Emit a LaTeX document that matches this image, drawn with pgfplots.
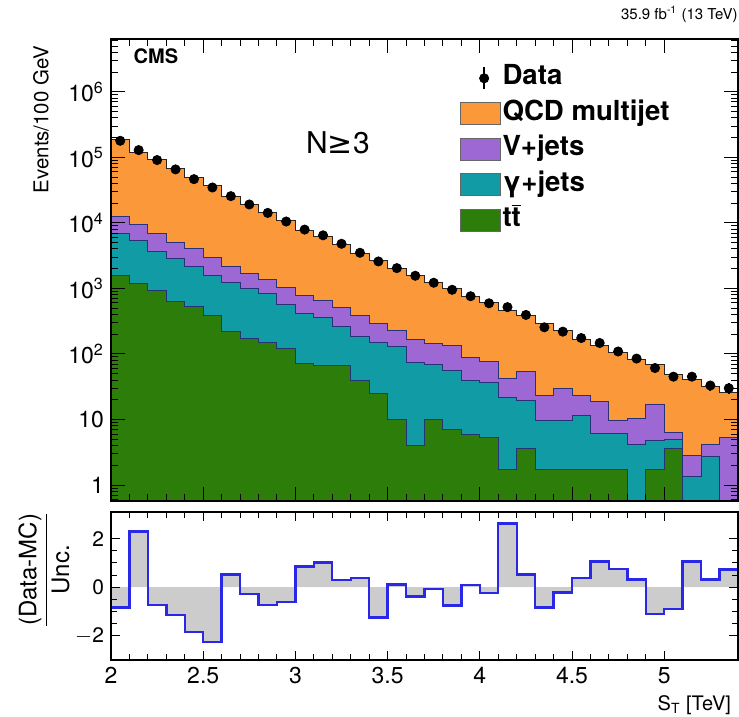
\documentclass[border=0pt]{standalone}
\usepackage{fontspec}
\setmainfont{TeX Gyre Heros}
\newfontfamily\dejavu{DejaVu Sans}
\usepackage{pgfplots}
\usepackage{pgfplotstable}
\pgfplotsset{compat=1.18}

\definecolor{qcdc}{RGB}{250,152,58}
\definecolor{vjc}{RGB}{158,104,212}
\definecolor{gjc}{RGB}{17,155,165}
\definecolor{ttc}{RGB}{45,125,10}
\definecolor{edgec}{RGB}{40,50,120}
\definecolor{ratioblue}{RGB}{40,40,230}
\definecolor{uncgray}{RGB}{204,204,204}

% legend swatches
\pgfplotsset{
  qcdbox/.style={legend image code/.code={\draw[fill=qcdc, draw=black!60] (0pt,-5.5pt) rectangle (20pt,5.5pt);}},
  vjbox/.style={legend image code/.code={\draw[fill=vjc, draw=black!60] (0pt,-5.5pt) rectangle (20pt,5.5pt);}},
  gjbox/.style={legend image code/.code={\draw[fill=gjc, draw=black!60] (0pt,-5.5pt) rectangle (20pt,5.5pt);}},
  ttbox/.style={legend image code/.code={\draw[fill=ttc, draw=black!60] (0pt,-5.5pt) rectangle (20pt,5.5pt);}},
  databox/.style={legend image code/.code={\draw[black, line width=0.9pt] (12pt,-5.5pt) -- (12pt,5.5pt); \fill[black] (12pt,0pt) circle (2.3pt);}},
}

% Stacked histogram: upper edge of each layer (QCD on top of V+jets on top of gamma+jets on top of ttbar)
\pgfplotstableread{
x    qcd     vj     gj     tt
2.0  184300  12600  6900   1570
2.1  118700  9400   5300   1200
2.2  93300   6900   3700   929
2.3  68100   5100   2840   631
2.4  49500   4000   2190   528
2.5  37400   3000   1570   385
2.6  25100   2160   1230   219
2.7  19300   1670   1000   175
2.8  14570   1360   850    150
2.9  10720   1020   570    119
3.0  7660    780    410    72
3.1  6230    653    362    66
3.2  4750    505    264    66
3.3  3450    385    184    40
3.4  2690    287    147    25
3.5  2030    227    130    10
3.6  1580    169    74     4
3.7  1225    142    70     10
3.8  980     134    55     7
3.9  758     88     39     6
4.0  615     76     36.6   5.3
4.1  459     42     21.6   1.73
4.2  385     54     19.2   3.6
4.3  287     23     9.7    1.73
4.4  225     30     9.7    1.73
4.5  169     23     11.3   1.73
4.6  133     19     6.1    1.73
4.7  105     9.7    6.1    1.73
4.8  83      10.4   4.2    0
4.9  70      16.7   4.7    1.73
5.0  49      6.3    5.0    3.6
5.1  41      2.86   1.36   0
5.2  31.5    4.1    2.76   0
5.3  26      5.4    0      0
5.4  26      5.4    0      0
}\stacktab

% Observed events per bin with Poisson uncertainty
\pgfplotstableread{
x     n       e
2.05  179000  423
2.15  129000  359
2.25  91000   302
2.35  65500   256
2.45  46500   216
2.55  34700   186
2.65  25600   160
2.75  19100   138
2.85  14200   119
2.95  10500   102
3.05  7900    89
3.15  6460    80
3.25  4800    69
3.35  3500    59
3.45  2580    51
3.55  2040    45
3.65  1560    39.5
3.75  1220    35
3.85  953     31
3.95  760     27.6
4.05  593     24.4
4.15  518     22.8
4.25  394     19.8
4.35  255     16
4.45  219     14.8
4.55  175     13.2
4.65  147     12.1
4.75  109     10.4
4.85  85      9.2
4.95  61      7.8
5.05  45      6.7
5.15  45      6.7
5.25  33      5.7
5.35  30      5.5
}\datatab

% (Data-MC)/Unc. per bin
\pgfplotstableread{
x    r
2.0  -0.84
2.1  2.29
2.2  -0.73
2.3  -1.14
2.4  -1.85
2.5  -2.25
2.6  0.53
2.7  -0.29
2.8  -0.73
2.9  -0.60
3.0  0.86
3.1  1.02
3.2  0.29
3.3  0.38
3.4  -1.25
3.5  0.12
3.6  -0.39
3.7  -0.08
3.8  -0.76
3.9  0.08
4.0  -0.23
4.1  2.62
4.2  0.53
4.3  -0.84
4.4  -0.22
4.5  0.38
4.6  1.06
4.7  0.76
4.8  0.31
4.9  -1.10
5.0  -0.90
5.1  1.06
5.2  0.31
5.3  0.73
5.4  0.73
}\ratiotab

\begin{document}
\begin{tikzpicture}
\begin{axis}[
  name=main,
  scale only axis,
  width=313.5pt, height=231pt,
  xmin=2, xmax=5.4,
  ymode=log, ymin=0.57, ymax=6.4e6,
  log origin y=infty,
  axis on top,
  xtick={2,2.5,3,3.5,4,4.5,5},
  minor x tick num=4,
  xticklabels={},
  ytick={1,10,100,1000,10000,100000,1000000},
  yticklabels={1,10,10\textsuperscript{2},10\textsuperscript{3},10\textsuperscript{4},10\textsuperscript{5},10\textsuperscript{6}},
  minor ytick={0.6,0.7,0.8,0.9,2,3,4,5,6,7,8,9,20,30,40,50,60,70,80,90,200,300,400,500,600,700,800,900,2000,3000,4000,5000,6000,7000,8000,9000,20000,30000,40000,50000,60000,70000,80000,90000,200000,300000,400000,500000,600000,700000,800000,900000,2000000,3000000,4000000,5000000,6000000},
  tick label style={font=\fontsize{11.5}{11.5}\selectfont},
  major tick length=7pt, minor tick length=3.5pt,
  tick style={black, line width=0.5pt},
  axis line style={line width=0.6pt},
  ylabel={Events/100 GeV},
  ylabel style={font=\fontsize{10.2}{10.2}\selectfont, at={(axis description cs:-0.088,1)}, anchor=south east},
  legend cell align=left,
  legend style={at={(rel axis cs:0.546,0.958)}, anchor=north west, draw=none, fill=none,
    font=\bfseries\fontsize{13.8}{13.8}\selectfont, row sep=2.2pt, column sep=0pt,
    nodes={inner sep=1pt, text height=10pt, text depth=3.5pt}},
]
\addplot[const plot, fill=qcdc, draw=black!85, line width=0.5pt, forget plot]
  table[x=x, y=qcd]{\stacktab} \closedcycle;
\addplot[const plot, fill=vjc, draw=edgec, line width=0.5pt, forget plot]
  table[x=x, y expr={max(\thisrow{vj},0.01)}]{\stacktab} \closedcycle;
\addplot[const plot, fill=gjc, draw=edgec, line width=0.5pt, forget plot]
  table[x=x, y expr={max(\thisrow{gj},0.01)}]{\stacktab} \closedcycle;
\addplot[const plot, fill=ttc, draw=edgec, line width=0.5pt, forget plot]
  table[x=x, y expr={max(\thisrow{tt},0.01)}]{\stacktab} \closedcycle;
\addplot[only marks, mark=*, mark size=2.3pt, black, forget plot,
  error bars/.cd, y dir=both, y explicit, error mark=none,
  error bar style={line width=0.9pt}]
  table[x=x, y=n, y error=e]{\datatab};

\addlegendimage{databox}
\addlegendentry{Data}
\addlegendimage{qcdbox}
\addlegendentry{QCD multijet}
\addlegendimage{vjbox}
\addlegendentry{V+jets}
\addlegendimage{gjbox}
\addlegendentry{γ+jets}
\addlegendimage{ttbox}
\addlegendentry{t$\overline{\mbox{t}}$}

\node[anchor=west, font=\bfseries\fontsize{10}{10}\selectfont] at (rel axis cs:0.025,0.962) {CMS};
\node[font=\fontsize{15}{15}\selectfont] at (rel axis cs:0.362,0.775) {N{\dejavu ≥}3};
\end{axis}
\node[anchor=south east, font=\fontsize{7.5}{7.5}\selectfont, inner sep=0pt, yshift=8pt] at (main.north east) {35.9 fb\textsuperscript{-1} (13 TeV)};

\begin{axis}[
  name=ratio,
  at={(main.south west)}, anchor=north west, yshift=-5.5pt,
  scale only axis,
  width=313.5pt, height=74pt,
  xmin=2, xmax=5.4,
  ymin=-3, ymax=3.1,
  axis on top,
  xtick={2,2.5,3,3.5,4,4.5,5},
  xticklabels={2,2.5,3,3.5,4,4.5,5},
  minor x tick num=4,
  ytick={-2,0,2},
  yticklabels={$-$2,0,2},
  minor y tick num=3,
  xticklabel style={font=\fontsize{11.5}{11.5}\selectfont},
  yticklabel style={font=\fontsize{10.5}{10.5}\selectfont},
  /pgf/number format/assume math mode=true,
  major tick length=4.5pt, minor tick length=3pt,
  tick style={black, line width=0.5pt},
  axis line style={line width=0.6pt},
  xlabel={S\textsubscript{T} [TeV]},
  xlabel style={font=\fontsize{10}{10}\selectfont, at={(axis description cs:1,0)}, anchor=north east, yshift=-14pt},
  ylabel={\fontsize{12}{14}\selectfont$\displaystyle\frac{\mbox{(Data-MC)}}{\mbox{Unc.}}$},
  ylabel style={at={(axis description cs:-0.107,0.61)}, anchor=center},
]
\addplot[const plot, fill=uncgray, draw=none] table[x=x, y=r]{\ratiotab} \closedcycle;
\addplot[const plot, draw=ratioblue, line width=1.2pt] table[x=x, y=r]{\ratiotab};
\end{axis}
\pgfresetboundingbox
\path[use as bounding box] ([xshift=-55.5pt, yshift=19.5pt]main.north west) rectangle ([xshift=0.5pt, yshift=-28.5pt]ratio.south east);
\end{tikzpicture}
\end{document}
